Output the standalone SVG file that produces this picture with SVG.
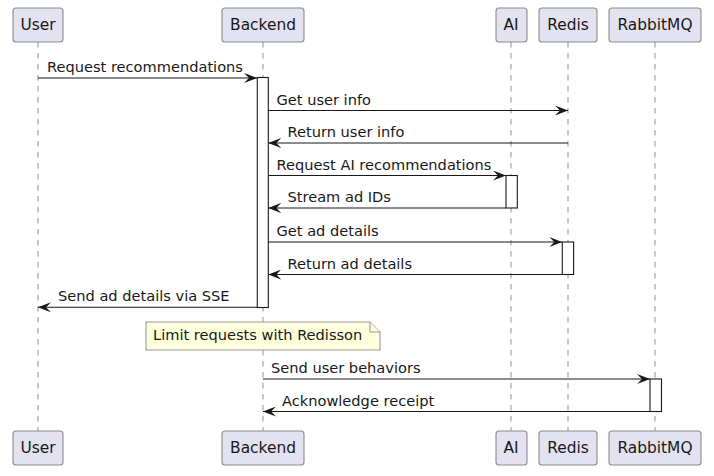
<svg xmlns="http://www.w3.org/2000/svg" width="714" height="476" viewBox="0 0 714 476">
<defs>
<style>
.pbox{fill:#E2E2F0;stroke:#8a8a8a;stroke-width:1.1}
.ptxt{font-family:"DejaVu Sans",sans-serif;font-size:15.4px;fill:#181818;text-anchor:middle}
.life{stroke:#8f8f8f;stroke-width:1;stroke-dasharray:5.5,5.5;fill:none}
.act{fill:#ffffff;stroke:#181818;stroke-width:1.1}
.msg{stroke:#181818;stroke-width:1.1;fill:none}
.mtxt{font-family:"DejaVu Sans",sans-serif;font-size:14.6px;fill:#181818}
.note{fill:#FEFFDD;stroke:#9a9a9a;stroke-width:1.1}
</style>
<marker id="ah" viewBox="0 0 13 10" refX="13" refY="5" markerWidth="13" markerHeight="10" markerUnits="userSpaceOnUse" orient="auto">
<polygon points="0,0 13,5 0,10 5,5" fill="#181818"/>
</marker>
</defs>
<rect width="714" height="476" fill="#ffffff"/>
<g id="lifelines">
<line class="life" x1="38" y1="42" x2="38" y2="431"/>
<line class="life" x1="263" y1="42" x2="263" y2="431"/>
<line class="life" x1="511" y1="42" x2="511" y2="431"/>
<line class="life" x1="568" y1="42" x2="568" y2="431"/>
<line class="life" x1="655" y1="42" x2="655" y2="431"/>
</g>
<g id="User">
<rect class="pbox" x="13" y="8" width="50" height="34" rx="3"/>
<text class="ptxt" x="38" y="30">User</text>
<rect class="pbox" x="13" y="431" width="50" height="34" rx="3"/>
<text class="ptxt" x="38" y="453">User</text>
</g>
<g id="Backend">
<rect class="pbox" x="222" y="8" width="82" height="34" rx="3"/>
<text class="ptxt" x="263" y="30">Backend</text>
<rect class="pbox" x="222" y="431" width="82" height="34" rx="3"/>
<text class="ptxt" x="263" y="453">Backend</text>
</g>
<g id="AI">
<rect class="pbox" x="496" y="8" width="31" height="34" rx="3"/>
<text class="ptxt" x="511" y="30">AI</text>
<rect class="pbox" x="496" y="431" width="31" height="34" rx="3"/>
<text class="ptxt" x="511" y="453">AI</text>
</g>
<g id="Redis">
<rect class="pbox" x="539" y="8" width="58" height="34" rx="3"/>
<text class="ptxt" x="568" y="30">Redis</text>
<rect class="pbox" x="539" y="431" width="58" height="34" rx="3"/>
<text class="ptxt" x="568" y="453">Redis</text>
</g>
<g id="RabbitMQ">
<rect class="pbox" x="609" y="8" width="92" height="34" rx="3"/>
<text class="ptxt" x="655" y="30">RabbitMQ</text>
<rect class="pbox" x="609" y="431" width="92" height="34" rx="3"/>
<text class="ptxt" x="655" y="453">RabbitMQ</text>
</g>
<g id="activations">
<rect class="act" x="257.3" y="77.5" width="11" height="230"/>
<rect class="act" x="506" y="175.5" width="11.3" height="32.5"/>
<rect class="act" x="562.3" y="242" width="11.3" height="32.5"/>
<rect class="act" x="650" y="379" width="11.5" height="32.5"/>
</g>
<g id="note">
<polygon class="note" points="146,322 370,322 380,332 380,350 146,350"/>
<polyline class="note" points="370,322 370,332 380,332" fill="none"/>
<text class="mtxt" x="153" y="340">Limit requests with Redisson</text>
</g>
<g id="connectors">
<line class="msg" x1="38" y1="78" x2="257" y2="78" marker-end="url(#ah)"/>
<text class="mtxt" x="47" y="72">Request recommendations</text>
<line class="msg" x1="268.3" y1="110.5" x2="568" y2="110.5" marker-end="url(#ah)"/>
<text class="mtxt" x="276.5" y="104.5">Get user info</text>
<line class="msg" x1="568" y1="143" x2="268.3" y2="143" marker-end="url(#ah)"/>
<text class="mtxt" x="287.5" y="137">Return user info</text>
<line class="msg" x1="268.3" y1="175.5" x2="506" y2="175.5" marker-end="url(#ah)"/>
<text class="mtxt" x="276.5" y="169.5">Request AI recommendations</text>
<line class="msg" x1="506" y1="208" x2="268.3" y2="208" marker-end="url(#ah)"/>
<text class="mtxt" x="287.5" y="202">Stream ad IDs</text>
<line class="msg" x1="268.3" y1="242" x2="562.3" y2="242" marker-end="url(#ah)"/>
<text class="mtxt" x="276.5" y="236">Get ad details</text>
<line class="msg" x1="562.3" y1="274.5" x2="268.3" y2="274.5" marker-end="url(#ah)"/>
<text class="mtxt" x="287.5" y="268.5">Return ad details</text>
<line class="msg" x1="257.3" y1="307.3" x2="38" y2="307.3" marker-end="url(#ah)"/>
<text class="mtxt" x="58" y="301.3">Send ad details via SSE</text>
<line class="msg" x1="263" y1="379" x2="650" y2="379" marker-end="url(#ah)"/>
<text class="mtxt" x="271" y="373">Send user behaviors</text>
<line class="msg" x1="650" y1="411.5" x2="263" y2="411.5" marker-end="url(#ah)"/>
<text class="mtxt" x="282" y="405.5">Acknowledge receipt</text>
</g>
</svg>
